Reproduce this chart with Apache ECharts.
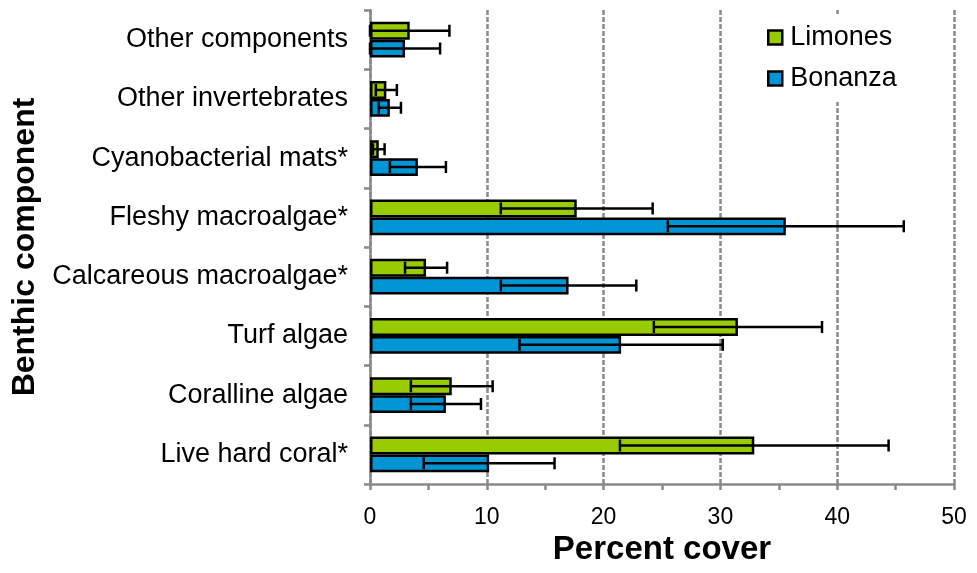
<!DOCTYPE html>
<html>
<head>
<meta charset="utf-8">
<script src="https://cdn.jsdelivr.net/npm/echarts@6/dist/echarts.min.js"></script>
<style>
  html, body { margin: 0; padding: 0; background: #fff; }
  #chart { width: 977px; height: 573px; }
</style>
</head>
<body>
<div id="chart"></div>
<script>
// Benthic components, listed bottom to top on the category axis
const categories = [
  'Live hard coral*', 'Coralline algae', 'Turf algae', 'Calcareous macroalgae*',
  'Fleshy macroalgae*', 'Cyanobacterial mats*', 'Other invertebrates', 'Other components'
];
// Mean percent cover and error (±) for each site
const limonesMean = [32.9, 7.0, 31.5, 4.8, 17.7, 0.75, 1.4, 3.4];
const limonesErr  = [11.5, 3.5, 7.2, 1.8, 6.5, 0.5, 0.9, 3.4];
const bonanzaMean = [10.2, 6.5, 21.5, 17.0, 35.6, 4.1, 1.7, 3.0];
const bonanzaErr  = [5.6, 3.0, 8.7, 5.8, 10.1, 2.4, 0.95, 3.0];
const xTicks = [0, 10, 20, 30, 40, 50];

const GREEN = '#99cc00';
const BLUE = '#0096d6';
const GAP = 0.40; // barCategoryGap fraction

function errorData(mean, err) {
  return mean.map((m, i) => [Math.max(0, m - err[i]), m + err[i], i]);
}

// side: -1 for the upper bar of a pair, +1 for the lower one
function errorRenderer(side) {
  return function (params, api) {
    const lo = api.coord([api.value(0), api.value(2)]);
    const hi = api.coord([api.value(1), api.value(2)]);
    const band = api.size([0, 1])[1];
    const barW = band * (1 - GAP) / 2;
    const y = lo[1] + side * barW / 2;
    const cap = 6;
    const style = { stroke: '#000', lineWidth: 2.5, fill: null };
    return {
      type: 'group',
      children: [
        { type: 'line', shape: { x1: lo[0], y1: y, x2: hi[0], y2: y }, style },
        { type: 'line', shape: { x1: lo[0], y1: y - cap, x2: lo[0], y2: y + cap }, style },
        { type: 'line', shape: { x1: hi[0], y1: y - cap, x2: hi[0], y2: y + cap }, style }
      ]
    };
  };
}

const chart = echarts.init(document.getElementById('chart'), null, { renderer: 'canvas' });
const FONT = '"Liberation Sans", Arial, Helvetica, sans-serif';
const AXIS_GRAY = '#8a8a8a';

chart.setOption({
  animation: false,
  backgroundColor: '#fff',
  textStyle: { fontFamily: FONT, color: '#000' },
  grid: { left: 370, right: 23, top: 10, bottom: 89, containLabel: false },
  legend: {
    data: ['Limones', 'Bonanza'],
    orient: 'vertical',
    left: 753,
    top: 14,
    padding: [10, 14, 10, 14],
    backgroundColor: '#fff',
    itemWidth: 14,
    itemHeight: 14,
    itemGap: 14,
    icon: 'rect',
    itemStyle: { borderColor: '#000', borderWidth: 2.5 },
    textStyle: { fontSize: 27, color: '#000', fontFamily: FONT, lineHeight: 27, padding: [0, 0, 0, 3] }
  },
  xAxis: {
    type: 'value',
    min: xTicks[0],
    max: xTicks[xTicks.length - 1],
    interval: 10,
    name: 'Percent cover',
    nameLocation: 'middle',
    nameGap: 45,
    nameTextStyle: { fontSize: 33, fontWeight: 'bold', color: '#000', fontFamily: FONT },
    axisLine: { show: true, lineStyle: { color: AXIS_GRAY, width: 2.5 } },
    axisTick: { show: true, length: 6, lineStyle: { color: AXIS_GRAY, width: 2.5 } },
    minorTick: { show: true, splitNumber: 2, length: 6, lineStyle: { color: AXIS_GRAY, width: 2.5 } },
    axisLabel: { fontSize: 23, color: '#000', margin: 22, fontFamily: FONT },
    splitLine: { show: true, lineStyle: { color: AXIS_GRAY, width: 2.5, type: [5, 2] } }
  },
  yAxis: {
    type: 'category',
    data: categories,
    name: 'Benthic component',
    nameLocation: 'middle',
    nameGap: 322,
    nameTextStyle: { fontSize: 32, fontWeight: 'bold', color: '#000', fontFamily: FONT },
    axisLine: { show: true, lineStyle: { color: AXIS_GRAY, width: 2.5 } },
    axisTick: { show: true, length: 6, lineStyle: { color: AXIS_GRAY, width: 2.5 } },
    axisLabel: { fontSize: 27, color: '#000', margin: 22, fontFamily: FONT },
    splitLine: { show: false }
  },
  series: [
    {
      name: 'Limones',
      type: 'bar',
      data: limonesMean,
      barGap: '0%',
      barCategoryGap: (GAP * 100) + '%',
      itemStyle: { color: GREEN, borderColor: '#000', borderWidth: 2.5 }
    },
    {
      name: 'Bonanza',
      type: 'bar',
      data: bonanzaMean,
      barGap: '0%',
      barCategoryGap: (GAP * 100) + '%',
      itemStyle: { color: BLUE, borderColor: '#000', borderWidth: 2.5 }
    },
    {
      name: 'Limones error',
      type: 'custom',
      renderItem: errorRenderer(-1),
      encode: { x: [0, 1], y: 2 },
      data: errorData(limonesMean, limonesErr),
      z: 10
    },
    {
      name: 'Bonanza error',
      type: 'custom',
      renderItem: errorRenderer(1),
      encode: { x: [0, 1], y: 2 },
      data: errorData(bonanzaMean, bonanzaErr),
      z: 10
    }
  ]
});
</script>
</body>
</html>
